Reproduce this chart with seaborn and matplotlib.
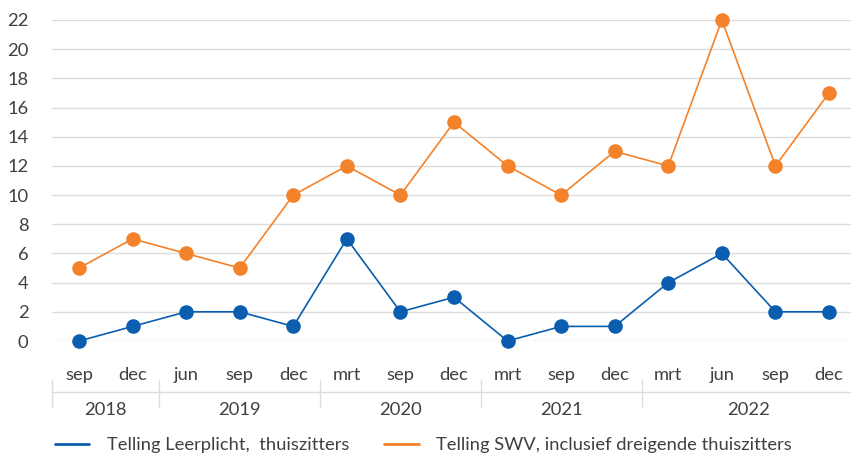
import numpy as np
import pandas as pd
import matplotlib
matplotlib.use("Agg")
import matplotlib.pyplot as plt
import matplotlib.transforms as mtransforms
import seaborn as sns

months = ["sep", "dec", "jun", "sep", "dec", "mrt", "sep", "dec",
          "mrt", "sep", "dec", "mrt", "jun", "sep", "dec"]
years = ["2018", "2018", "2019", "2019", "2019", "2020", "2020", "2020",
         "2021", "2021", "2021", "2022", "2022", "2022", "2022"]
leerplicht = [0, 1, 2, 2, 1, 7, 2, 3, 0, 1, 1, 4, 6, 2, 2]
swv = [5, 7, 6, 5, 10, 12, 10, 15, 12, 10, 13, 12, 22, 12, 17]
series_names = ["Telling Leerplicht,  thuiszitters",
                "Telling SWV, inclusief dreigende thuiszitters"]
colors = ["#0B5EAF", "#F4822A"]
yticks = list(range(0, 23, 2))

sns.set_theme(style="white")
plt.rcParams["font.family"] = ["Lato", "DejaVu Sans"]
FS = 13.2
TXT = "#404040"
GRID = "#DDDDDD"

idx = np.arange(len(months))
df = pd.DataFrame({
    "x": np.concatenate([idx, idx]),
    "y": leerplicht + swv,
    "serie": [series_names[0]] * len(idx) + [series_names[1]] * len(idx),
})

W, H = 851, 459
fig = plt.figure(figsize=(W / 100, H / 100), dpi=100)
left_px, right_px = 52.2, 855.8
top_px, bot_px = 20, 341
ax = fig.add_axes([left_px / W, 1 - bot_px / H,
                   (right_px - left_px) / W, (bot_px - top_px) / H])

sns.lineplot(data=df, x="x", y="y", hue="serie", palette=colors,
             hue_order=series_names, marker="o", markersize=10.5,
             markeredgewidth=0, linewidth=1.2, ax=ax, legend=False,
             clip_on=False, zorder=3)

ax.set_xlim(-0.5, len(idx) - 0.5)
ax.set_ylim(0, 22)
ax.set_yticks(yticks)
ax.set_yticklabels([str(t) for t in yticks], fontsize=FS, color=TXT)
ax.tick_params(axis="y", length=0, pad=17)
ax.set_xticks([])
ax.set_xlabel("")
ax.set_ylabel("")
for s in ax.spines.values():
    s.set_visible(False)
for t in yticks:
    ax.axhline(t, color=GRID, linewidth=1.0, zorder=0)

# multi-level category axis
trans = mtransforms.blended_transform_factory(ax.transData, fig.transFigure)
def fy(px):
    return 1 - px / H

for i, m in enumerate(months):
    ax.text(i, fy(375), m, transform=trans, ha="center", va="center",
            fontsize=FS, color=TXT)

# groups
groups = []
start = 0
for i in range(1, len(years) + 1):
    if i == len(years) or years[i] != years[start]:
        groups.append((years[start], start, i - 1))
        start = i
for yr, a, b in groups:
    ax.text((a + b) / 2, fy(410), yr, transform=trans, ha="center",
            va="center", fontsize=FS, color=TXT)
    ax.plot([a - 0.5, a - 0.5], [fy(380), fy(407)], transform=trans,
            color=GRID, linewidth=1.0, clip_on=False)
ax.plot([-0.5, len(idx) - 0.5], [fy(392), fy(392)], transform=trans,
        color=GRID, linewidth=1.0, clip_on=False)

handles = [plt.Line2D([], [], color=c, linewidth=2.0) for c in colors]
leg = fig.legend(handles, series_names, loc="center left",
                 bbox_to_anchor=(38 / W, fy(445)), ncol=2, frameon=False,
                 fontsize=FS, handlelength=1.9, handletextpad=0.95,
                 columnspacing=1.9, labelcolor=TXT)

fig.savefig("out.png", dpi=100, facecolor="white")
